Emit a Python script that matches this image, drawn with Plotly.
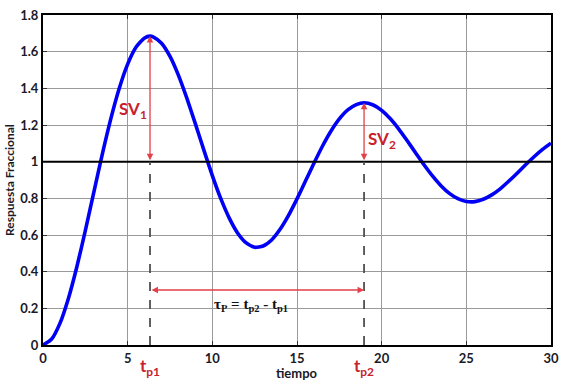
import plotly.graph_objects as go

# Data
t_vals = [0, 0.5, 1, 1.5, 2, 2.5, 3, 3.5, 4, 4.5, 5, 5.5, 6, 6.32, 6.5, 7, 7.5, 8, 8.5, 9, 9.5,
          10, 10.5, 11, 11.5, 12, 12.5, 13, 13.5, 14, 14.5, 15, 15.5, 16, 16.5, 17, 17.5,
          18, 18.5, 18.96, 19.5, 20, 20.5, 21, 21.5, 22, 22.5, 23, 23.5, 24, 24.5, 25, 25.5,
          26, 26.5, 27, 27.5, 28, 28.5, 29, 29.5, 30]
y_vals = [0.0, 0.031, 0.118, 0.254, 0.427, 0.624, 0.833, 1.040, 1.232, 1.399, 1.532, 1.625,
          1.675, 1.685, 1.681, 1.646, 1.574, 1.471, 1.345, 1.206, 1.063,
          0.924, 0.798, 0.692, 0.610, 0.557, 0.533, 0.540, 0.573, 0.631, 0.707, 0.797, 0.894,
          0.991, 1.084, 1.166, 1.233, 1.282, 1.311, 1.321, 1.309, 1.280, 1.235, 1.179, 1.115,
          1.049, 0.983, 0.922, 0.869, 0.827, 0.798, 0.783, 0.782, 0.795, 0.819, 0.852, 0.893,
          0.937, 0.983, 1.027, 1.067, 1.101]

tp1, peak1 = 6.32, 1.685
tp2, peak2 = 18.96, 1.321
setpoint = 1.0
tau_y = 0.3

x_ticks = [0, 5, 10, 15, 20, 25, 30]
y_ticks = [0, 0.2, 0.4, 0.6, 0.8, 1, 1.2, 1.4, 1.6, 1.8]
y_tick_text = ["0", "0.2", "0.4", "0.6", "0.8", "1", "1.2", "1.4", "1.6", "1.8"]

RED_TXT = "#c8202a"
RED_ARR = "#e2404a"
SANS = "Lato, Open Sans, sans-serif"
TICKFONT = dict(family=SANS, size=13, color="#1a1a28", weight="bold")

fig = go.Figure()
fig.add_trace(go.Scatter(x=t_vals, y=y_vals, mode="lines",
                         line=dict(color="#0000f5", width=3.6, shape="spline", smoothing=0.6),
                         hoverinfo="skip", showlegend=False))

shapes = [
    dict(type="line", xref="x", yref="y", x0=0, x1=30, y0=setpoint, y1=setpoint,
         line=dict(color="black", width=2), layer="above"),
    dict(type="line", xref="x", yref="y", x0=tp1, x1=tp1, y0=0, y1=setpoint,
         line=dict(color="#505050", width=1.8, dash="dash"), layer="above"),
    dict(type="line", xref="x", yref="y", x0=tp2, x1=tp2, y0=0, y1=setpoint,
         line=dict(color="#505050", width=1.8, dash="dash"), layer="above"),
]

def arrow(x_head, y_head, x_tail, y_tail):
    return dict(x=x_head, y=y_head, ax=x_tail, ay=y_tail, xref="x", yref="y",
                axref="x", ayref="y", text="", showarrow=True, arrowside="end+start",
                arrowhead=2, startarrowhead=2, arrowsize=1, startarrowsize=1,
                arrowwidth=1.3, arrowcolor=RED_ARR, standoff=0, startstandoff=0)

annotations = [
    arrow(tp1, peak1, tp1, setpoint),
    arrow(tp2, peak2, tp2, setpoint),
    arrow(tp2, tau_y, tp1, tau_y),
    dict(x=5.3, y=1.28, xref="x", yref="y", text="SV<sub>1</sub>", showarrow=False,
         font=dict(family=SANS, size=17, color=RED_TXT, weight="bold")),
    dict(x=20.0, y=1.12, xref="x", yref="y", text="SV<sub>2</sub>", showarrow=False,
         font=dict(family=SANS, size=17, color=RED_TXT, weight="bold")),
    dict(x=12.3, y=0.22, xref="x", yref="y",
         text="τ<sub>P</sub> = t<sub>p2</sub> - t<sub>p1</sub>", showarrow=False,
         font=dict(family="Liberation Serif, serif", size=15, color="#111", weight="bold")),
    dict(x=tp1, y=0, xref="x", yref="paper", yanchor="middle", yshift=-22,
         text="t<sub>p1</sub>", showarrow=False,
         font=dict(family=SANS, size=17, color=RED_TXT, weight="bold")),
    dict(x=tp2, y=0, xref="x", yref="paper", yanchor="middle", yshift=-22,
         text="t<sub>p2</sub>", showarrow=False,
         font=dict(family=SANS, size=17, color=RED_TXT, weight="bold")),
    dict(x=0.5, y=0, xref="paper", yref="paper", yanchor="middle", yshift=-28,
         text="tiempo", showarrow=False,
         font=dict(family=SANS, size=13, color="#1a1a28", weight="bold")),
    dict(x=0, y=0.5, xref="paper", yref="paper", xanchor="center", xshift=-34,
         text="Respuesta Fraccional", showarrow=False, textangle=-90,
         font=dict(family=SANS, size=12, color="#1a1a28", weight="bold")),
]

fig.update_layout(
    width=566, height=384,
    margin=dict(l=43, r=15, t=15, b=39, autoexpand=False),
    paper_bgcolor="white", plot_bgcolor="white",
    shapes=shapes, annotations=annotations,
    xaxis=dict(range=[0, 30], tickvals=x_ticks, ticktext=[str(v) for v in x_ticks],
               showgrid=True, gridcolor="#9a9a9a", gridwidth=1, zeroline=False,
               showline=True, linecolor="black", linewidth=2, mirror="ticks",
               ticks="inside", ticklen=4, tickcolor="#333", tickfont=TICKFONT,
               automargin=False),
    yaxis=dict(range=[0, 1.8], tickvals=y_ticks, ticktext=y_tick_text,
               showgrid=True, gridcolor="#9a9a9a", gridwidth=1, zeroline=False,
               showline=True, linecolor="black", linewidth=2, mirror="ticks",
               ticks="inside", ticklen=4, tickcolor="#333", tickfont=TICKFONT,
               automargin=False),
)

fig.write_html("out.html", config={"displayModeBar": False})

# remove the browser's default body margin so the figure sits at the page origin
with open("out.html", "r", encoding="utf-8") as f:
    html = f.read()
html = html.replace("<head>", "<head><style>html,body{margin:0;padding:0;overflow:hidden;}</style>", 1)
with open("out.html", "w", encoding="utf-8") as f:
    f.write(html)
